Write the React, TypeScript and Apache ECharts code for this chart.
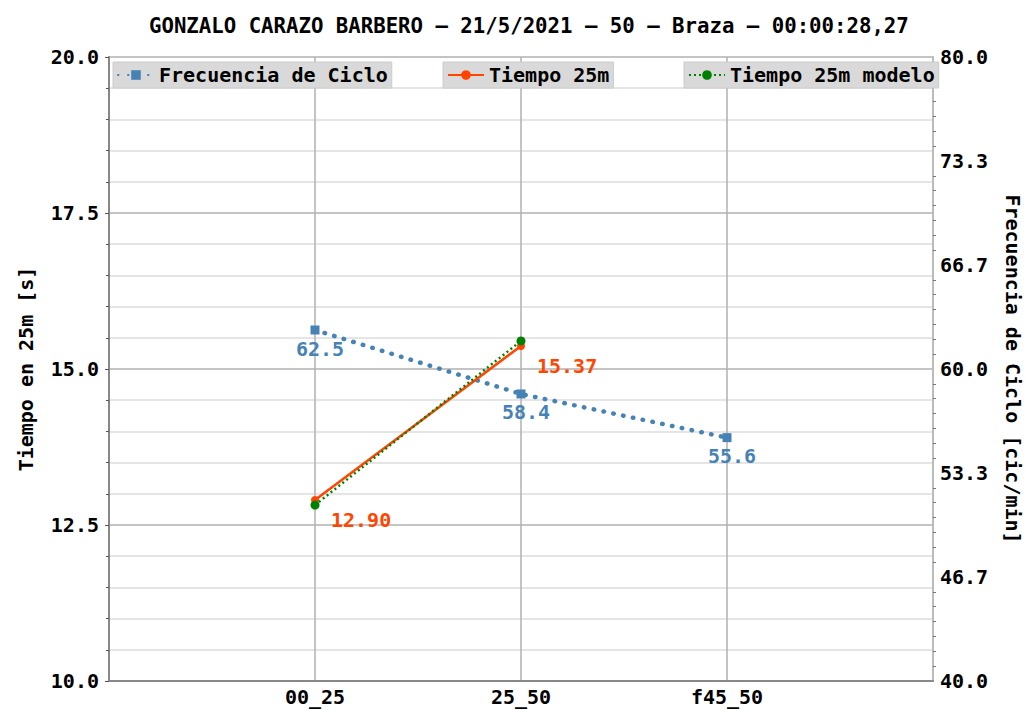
import React, { useEffect, useRef } from "react";
import * as echarts from "echarts";

const TITLE = "GONZALO CARAZO BARBERO – 21/5/2021 – 50 – Braza – 00:00:28,27";
const categories = ["", "00_25", "25_50", "f45_50", ""];
const freqCats = ["00_25", "25_50", "f45_50"];
const freqValues = [62.5, 58.4, 55.6];
const tiempoCats = ["00_25", "25_50"];
const tiempoValues = [12.9, 15.37];
const modeloCats = ["00_25", "25_50"];
const modeloValues = [12.82, 15.45];

const FONT = "DejaVu Sans Mono";

export default function App() {
  const ref = useRef<HTMLDivElement>(null);
  useEffect(() => {
    if (!ref.current) return;
    const chart = echarts.init(ref.current, null, { renderer: "svg" });
    const legendBase = {
      top: 62,
      padding: [3, 4],
      backgroundColor: "#d9d9d9",
      borderColor: "#cccccc",
      borderWidth: 1,
      itemWidth: 36,
      itemHeight: 12,
      itemGap: 2,
      textStyle: { fontFamily: FONT, fontWeight: "bold", fontSize: 20, color: "#000" },
      selectedMode: false,
    };
    chart.setOption({
      animation: false,
      backgroundColor: "#ffffff",
      title: {
        text: TITLE,
        left: 144,
        top: 10,
        textStyle: { fontFamily: FONT, fontWeight: "bold", fontSize: 20.7, color: "#000" },
      },
      legend: [
        { ...legendBase, left: 113, data: ["Frecuencia de Ciclo"] },
        { ...legendBase, left: 443, data: ["Tiempo 25m"] },
        { ...legendBase, left: 684, data: ["Tiempo 25m modelo"] },
      ],
      grid: { left: 109, right: 90, top: 57, bottom: 30, containLabel: false },
      xAxis: {
        type: "category",
        data: categories,
        boundaryGap: false,
        axisLine: { lineStyle: { color: "#888", width: 2 } },
        axisTick: { show: false },
        axisLabel: {
          fontFamily: FONT,
          fontWeight: "bold",
          fontSize: 20,
          lineHeight: 20,
          color: "#000",
          margin: 6,
          interval: 0,
        },
        splitLine: { show: true, lineStyle: { color: "#b0b0b0", width: 1.5 } },
      },
      yAxis: [
        {
          type: "value",
          min: 10,
          max: 20,
          interval: 2.5,
          name: "Tiempo en 25m [s]",
          nameLocation: "middle",
          nameGap: 73,
          nameTextStyle: { fontFamily: FONT, fontWeight: "bold", fontSize: 20, color: "#000" },
          axisLine: { show: true, lineStyle: { color: "#888", width: 2 } },
          axisTick: { show: true, length: 4, lineStyle: { color: "#555" } },
          minorTick: { show: true, splitNumber: 5, length: 3, lineStyle: { color: "#555" } },
          axisLabel: {
            fontFamily: FONT,
            fontWeight: "bold",
            fontSize: 20,
            color: "#000",
            margin: 10,
            formatter: (v: number) => v.toFixed(1),
          },
          splitLine: { show: true, lineStyle: { color: "#b0b0b0", width: 1.5 } },
          minorSplitLine: { show: true, lineStyle: { color: "#dddddd", width: 1.5 } },
        },
        {
          type: "value",
          min: 40,
          max: 80,
          interval: 40 / 6,
          position: "right",
          name: "Frecuencia de Ciclo [cic/min]",
          nameLocation: "middle",
          nameGap: 70,
          nameRotate: -90,
          nameTextStyle: { fontFamily: FONT, fontWeight: "bold", fontSize: 20, color: "#000" },
          axisLine: { show: true, lineStyle: { color: "#bbb", width: 2 } },
          axisTick: { show: false },
          minorTick: { show: true, splitNumber: 7, length: 3, inside: true, lineStyle: { color: "#777" } },
          axisLabel: {
            fontFamily: FONT,
            fontWeight: "bold",
            fontSize: 20,
            color: "#000",
            margin: 7,
            formatter: (v: number) => v.toFixed(1),
          },
          splitLine: { show: false },
        },
      ],
      series: [
        {
          name: "Frecuencia de Ciclo",
          type: "line",
          yAxisIndex: 1,
          data: freqCats.map((c, i) => [c, freqValues[i]]),
          symbol: "rect",
          symbolSize: 9,
          color: "#4682b4",
          lineStyle: { color: "#4682b4", width: 4.5, type: [0.5, 9.5], cap: "round" },
          itemStyle: { color: "#4682b4" },
          label: {
            show: true,
            position: "bottom",
            distance: 4,
            offset: [5, 0],
            fontFamily: FONT,
            fontWeight: "bold",
            fontSize: 20,
            color: "#4682b4",
            formatter: (p: any) => p.value[1].toFixed(1),
          },
          z: 2,
        },
        {
          name: "Tiempo 25m",
          type: "line",
          yAxisIndex: 0,
          data: tiempoCats.map((c, i) => [c, tiempoValues[i]]),
          symbol: "circle",
          symbolSize: 8,
          color: "#ff4500",
          lineStyle: { color: "#ff4500", width: 2.5 },
          itemStyle: { color: "#ff4500" },
          label: {
            show: true,
            position: "right",
            distance: 12,
            offset: [0, 20],
            fontFamily: FONT,
            fontWeight: "bold",
            fontSize: 20,
            color: "#ff4500",
            formatter: (p: any) => p.value[1].toFixed(2),
          },
          z: 3,
        },
        {
          name: "Tiempo 25m modelo",
          type: "line",
          yAxisIndex: 0,
          data: modeloCats.map((c, i) => [c, modeloValues[i]]),
          symbol: "circle",
          symbolSize: 9,
          color: "#008000",
          lineStyle: { color: "#008000", width: 2.5, type: [2, 3] },
          itemStyle: { color: "#008000" },
          z: 4,
        },
      ],
    });
    return () => chart.dispose();
  }, []);
  return <div ref={ref} style={{ width: 1031, height: 711, position: "absolute", left: 0, top: 0 }} />;
}
